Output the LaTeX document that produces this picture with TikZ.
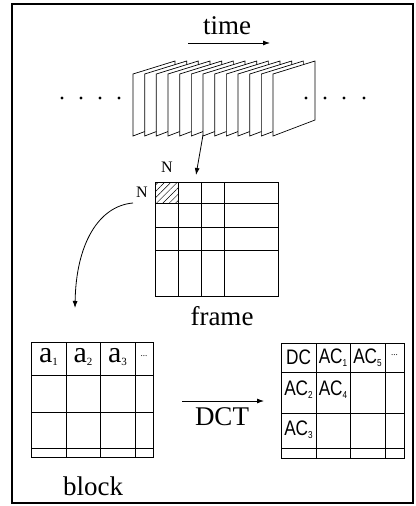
\documentclass[tikz,border=0pt]{standalone}
\usepackage{fontspec}
\setmainfont{Liberation Serif}
\newfontfamily\sansc[FakeStretch=0.82]{Liberation Sans}
\usetikzlibrary{arrows.meta,patterns.meta}
\newcommand{\sbs}[1]{\raisebox{-3pt}{\fontsize{11}{11}\selectfont #1}}
\newcommand{\ssbs}[1]{\raisebox{-3pt}{\fontsize{10}{10}\selectfont #1}}
\begin{document}
\begin{tikzpicture}[x=1pt,y=-1pt,
  line width=0.8pt,
  big/.style={font=\fontsize{27}{29}\selectfont, inner sep=0pt},
  nlab/.style={font=\fontsize{16}{18}\selectfont, inner sep=0pt},
  alab/.style={font=\fontsize{30}{32}\selectfont, inner sep=0pt},
  clab/.style={font=\sansc\fontsize{21}{22}\selectfont, inner sep=0pt},
  arr/.style={-{Latex[length=7pt,width=5pt]}},
  framestyle/.style={draw, fill=white, line width=0.7pt}]
\useasboundingbox (0,0) rectangle (415,506);
\draw[line width=1.2pt] (12,4) rectangle (413,503);

% time
\node[big] (time) at (227,26) {time};
\coordinate (tA) at (188,43);
\coordinate (tB) at (270,43);
\draw[arr] (tA) -- (tB);

% frames
\foreach \i in {0,...,12} {
  \pgfmathsetmacro\xx{133+11.67*\i}
  \path[framestyle] (\xx,136) -- (\xx,74) -- (\xx+42,61) -- (\xx+42,120) -- cycle;
}
\foreach \xx in {62,81,100,119,306,325,344,364} \fill (\xx,98) circle (1.6);

% frame grid
\node[draw, minimum width=123pt, minimum height=114pt, inner sep=0pt] (fgrid) at (216.5,239) {};
\fill[pattern={Lines[angle=45,distance=4.5pt,line width=0.5pt]}] (155,182) rectangle (178,203);
\foreach \xx in {178,201,224} \draw (\xx,182) -- (\xx,296);
\foreach \yy in {203,227,250} \draw (155,\yy) -- (278,\yy);
\node[nlab] (ntop) at (167,167) {N};
\node[nlab] (nleft) at (142,192) {N};
\node[big] (framelab) at (222,316) {frame};
\coordinate (fs) at (203,135);
\coordinate (fe) at (196,175);
\draw[arr] (fs) -- (fe);

% curve to block
\coordinate (cs) at (133,203);
\coordinate (ce) at (75,308);
\draw[arr] (cs) .. controls (98,206) and (76,245) .. (ce);

% block
\node[draw, minimum width=122pt, minimum height=115pt, inner sep=0pt] (block) at (92,399.5) {};
\foreach \xx in {66,100,135} \draw (\xx,342) -- (\xx,457);
\foreach \yy in {375,412,448} \draw (31,\yy) -- (153,\yy);
\node[alab] (a1) at (48.5,357) {a\sbs{1}};
\node[alab] (a2) at (83,357) {a\sbs{2}};
\node[alab] (a3) at (117.5,357) {a\sbs{3}};
\node[inner sep=0pt, font=\fontsize{9}{9}\selectfont] (adots) at (144,356) {...};
\node[big] (blocklab) at (93,486) {block};

% DCT
\coordinate (dA) at (182,401);
\coordinate (dB) at (264,401);
\draw[arr] (dA) -- (dB);
\node[big] (dct) at (222,417) {DCT};

% coefficients
\node[draw, minimum width=123pt, minimum height=115pt, inner sep=0pt] (coef) at (342.5,400.5) {};
\foreach \xx in {316,350,385} \draw (\xx,343) -- (\xx,458);
\foreach \yy in {372,413,448} \draw (281,\yy) -- (404,\yy);
\node[clab] (dc) at (298.5,357.5) {DC};
\node[clab] (ac1) at (333,357.5) {AC\ssbs{1}};
\node[clab] (ac5) at (367.5,357.5) {AC\ssbs{5}};
\node[inner sep=0pt, font=\fontsize{9}{9}\selectfont] (cdots) at (394.5,355) {...};
\node[clab] (ac2) at (298.5,390) {AC\ssbs{2}};
\node[clab] (ac4) at (333,390) {AC\ssbs{4}};
\node[clab] (ac3) at (298.5,430) {AC\ssbs{3}};
\end{tikzpicture}
\end{document}
